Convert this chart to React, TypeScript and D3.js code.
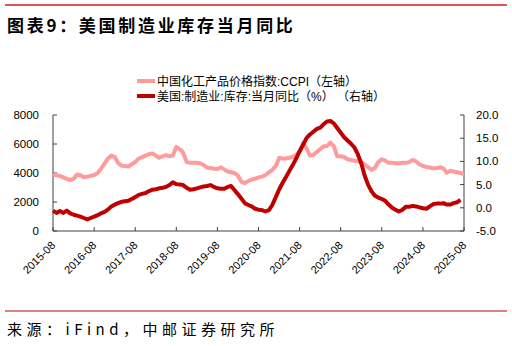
import React from "react";
import * as d3 from "d3";

const START_YEAR = 2015;
const START_MONTH = 7; // August (0-based)

// 中国化工产品价格指数:CCPI (left axis), monthly from 2015-08
const ccpi: number[] = [
  3900, 3850, 3800, 3700, 3600, 3520, 3600, 3900, 3850, 3700, 3750, 3800, 3860,
  4000, 4300, 4650, 5000, 5200, 5100, 4700, 4500, 4480, 4450, 4600, 4760,
  5000, 5100, 5200, 5300, 5350, 5200, 5050, 5150, 5230, 5150, 5200, 5800,
  5650, 5400, 4750, 4700, 4700, 4700, 4680, 4550, 4380, 4350, 4300, 4280,
  4400, 4250, 4100, 4050, 4000, 3800, 3400, 3300, 3450, 3550, 3600, 3700,
  3750, 3850, 4050, 4200, 4500, 5050, 5000, 5000, 5050, 5100, 5250, 5450,
  6050, 5700, 5200, 5250, 5450, 5650, 5850, 5850, 6100, 5850, 5150, 5150,
  5100, 4950, 4900, 4850, 4800, 4750, 4600, 4400, 4220, 4350, 4750, 4950,
  4850, 4700, 4700, 4680, 4680, 4700, 4700, 4750, 4900, 4800, 4600, 4480,
  4420, 4380, 4320, 4350, 4400, 4300, 4020, 4150, 4100, 4050, 4000, 3950,
];

// 美国:制造业:库存:当月同比(%) (right axis), monthly from 2015-08
const usInv: number[] = [
  -0.6, -1.1, -0.7, -1.1, -0.6, -1.2, -1.5, -1.7, -1.9, -2.2, -2.5, -2.2, -1.9,
  -1.6, -1.2, -0.9, -0.4, 0.3, 0.7, 1.0, 1.3, 1.4, 1.5, 1.9, 2.3,
  2.8, 3.0, 3.2, 3.6, 3.9, 4.0, 4.2, 4.3, 4.5, 4.9, 5.5, 5.1,
  5.0, 4.9, 4.3, 3.9, 4.0, 4.2, 4.4, 4.6, 4.7, 4.9, 4.5, 4.2,
  4.1, 4.1, 4.5, 4.7, 3.8, 2.9, 2.0, 1.0, 0.6, 0.3, -0.2, -0.4,
  -0.5, -0.8, -0.5, 0.6, 2.3, 4.0, 5.3, 6.6, 7.9, 9.2, 10.6, 12.2,
  13.6, 15.0, 15.8, 16.4, 17.0, 17.3, 18.0, 18.6, 18.7, 18.2, 17.2, 16.2,
  15.2, 14.5, 13.8, 13.0, 11.5, 9.5, 7.0, 5.0, 3.6, 2.6, 2.2, 1.9,
  1.5, 0.7, 0.0, -0.4, -0.8, -0.4, 0.2, 0.2, 0.4, 0.3, 0.1, -0.1,
  -0.2, 0.3, 0.8, 0.9, 0.9, 1.0, 0.7, 0.7, 1.0, 1.2, 1.7,
];

const xTickLabels = [
  "2015-08", "2016-08", "2017-08", "2018-08", "2019-08", "2020-08",
  "2021-08", "2022-08", "2023-08", "2024-08", "2025-08",
];
const leftTicks = [0, 2000, 4000, 6000, 8000];
const rightTicks = [-5, 0, 5, 10, 15, 20];

const legendLabels = [
  "中国化工产品价格指数:CCPI（左轴）",
  "美国:制造业:库存:当月同比（%） （右轴）",
];

const PINK = "#FF9B9B";
const DARK = "#C00000";
const AXIS = "#404040";

const dateOf = (i: number) => new Date(START_YEAR, START_MONTH + i, 1);

export default function App() {
  const left = 53, right = 464, top = 115, bottom = 231;
  const x = d3
    .scaleTime()
    .domain([dateOf(0), dateOf(120)])
    .range([left, right]);
  const yL = d3.scaleLinear().domain([0, 8000]).range([bottom, top]);
  const yR = d3.scaleLinear().domain([-5, 20]).range([bottom, top]);

  const lineL = d3
    .line<number>()
    .x((_, i) => x(dateOf(i)))
    .y((d) => yL(d))
    .curve(d3.curveLinear);
  const lineR = d3
    .line<number>()
    .x((_, i) => x(dateOf(i)))
    .y((d) => yR(d))
    .curve(d3.curveLinear);

  const tickFont = "'Liberation Sans', Arial, sans-serif";
  const cjkFont = "'Liberation Sans', Arial, 'Noto Sans CJK SC', sans-serif";

  return (
    <svg
      width={512}
      height={346}
      style={{ position: "absolute", left: 0, top: 0, background: "#fff" }}
    >
      <rect x={0} y={0} width={512} height={346} fill="#fff" />
      <line x1={5} x2={507} y1={5} y2={5} stroke="#D02020" strokeWidth={1.5} />
      <text
        x={7}
        y={32}
        fontFamily="'Noto Sans CJK SC', sans-serif"
        fontWeight="bold"
        fontSize={17}
        letterSpacing={2.7}
        fill="#000"
      >
        图表9：美国制造业库存当月同比
      </text>

      {/* legend */}
      <line x1={137} x2={155} y1={81} y2={81} stroke={PINK} strokeWidth={4} />
      <text x={157} y={85.5} fontSize={12} fontFamily={cjkFont} fill="#000">
        {legendLabels[0]}
      </text>
      <line x1={137} x2={155} y1={96} y2={96} stroke={DARK} strokeWidth={4} />
      <text x={157} y={100.5} fontSize={12} fontFamily={cjkFont} fill="#000">
        {legendLabels[1]}
      </text>

      {/* axes */}
      <line x1={left} x2={left} y1={top} y2={bottom} stroke={AXIS} strokeWidth={1} />
      <line x1={right} x2={right} y1={top} y2={bottom} stroke={AXIS} strokeWidth={1} />
      <line x1={left} x2={right} y1={bottom} y2={bottom} stroke={AXIS} strokeWidth={1} />

      {leftTicks.map((t) => (
        <g key={"l" + t}>
          <line x1={left} x2={left + 4} y1={yL(t)} y2={yL(t)} stroke={AXIS} />
          <text
            x={left - 14}
            y={yL(t) + 4}
            textAnchor="end"
            fontSize={11.5}
            fontFamily={tickFont}
            fill="#000"
          >
            {t}
          </text>
        </g>
      ))}
      {rightTicks.map((t) => (
        <g key={"r" + t}>
          <line x1={right - 4} x2={right} y1={yR(t)} y2={yR(t)} stroke={AXIS} />
          <text
            x={right + 12}
            y={yR(t) + 4}
            textAnchor="start"
            fontSize={11.5}
            fontFamily={tickFont}
            fill="#000"
          >
            {t.toFixed(1)}
          </text>
        </g>
      ))}
      {xTickLabels.map((lab, k) => {
        const px = x(dateOf(k * 12));
        return (
          <g key={lab}>
            <line x1={px} x2={px} y1={bottom} y2={bottom - 4} stroke={AXIS} />
            <text
              transform={`translate(${px + 3},${bottom + 15}) rotate(-45)`}
              textAnchor="end"
              fontSize={11}
              fontFamily={tickFont}
              fill="#000"
            >
              {lab}
            </text>
          </g>
        );
      })}

      <path d={lineL(ccpi) || ""} fill="none" stroke={PINK} strokeWidth={4} strokeLinejoin="round" />
      <path d={lineR(usInv) || ""} fill="none" stroke={DARK} strokeWidth={4} strokeLinejoin="round" />

      <line x1={5} x2={507} y1={311} y2={311} stroke="#C00000" strokeWidth={1} />
      <text
        x={7}
        y={335}
        fontFamily="'Noto Sans CJK SC', sans-serif"
        fontSize={15}
        letterSpacing={4.5}
        fill="#000"
      >
        来源：iFind，中邮证券研究所
      </text>
    </svg>
  );
}
